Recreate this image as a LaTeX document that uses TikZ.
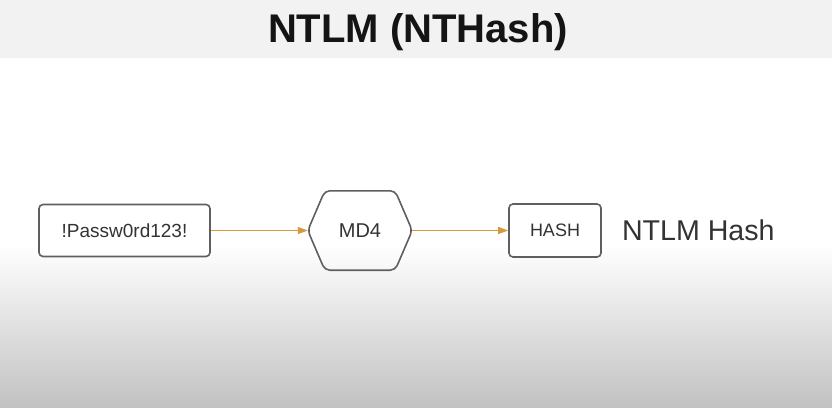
\documentclass[tikz,border=0pt]{standalone}
\usepackage{fontspec}
\setmainfont{Liberation Sans}
\usetikzlibrary{graphs,positioning,arrows.meta}
\definecolor{bandgray}{HTML}{F2F2F2}
\definecolor{bottomgray}{HTML}{C2C2C2}
\definecolor{linegray}{HTML}{5F5F5F}
\definecolor{textgray}{HTML}{333333}
\definecolor{flowc}{HTML}{D8993C}
\tikzset{
    plainbox/.style ={
        shape=rectangle,
        rounded corners=4pt,
        draw=linegray,
        line width=1.6pt,
        fill=white,
        text=textgray,
        inner sep=0pt
    },
    hexa/.style ={
        shape=rectangle,
        minimum width=104pt,
        minimum height=79pt,
        text=textgray,
        inner sep=0pt
    },
    flow/.style ={
        draw=flowc,
        line width=1.2pt,
        >={Triangle[length=10pt,width=7pt]}
    }
}

\begin{document}
\begin{tikzpicture}[x=1pt,y=-1pt]
    \useasboundingbox (0,0) rectangle (832,407);
    \fill[white] (0,0) rectangle (832,407);
    \fill[bandgray] (0,0) rectangle (832,57.5);
    \shade[top color=white,bottom color=bottomgray] (0,245) rectangle (832,407);
    \node[font=\fontsize{40}{44}\selectfont\bfseries,text=black!92] (title) at (418,32.5) {NTLM (NTHash)};
    \node[plainbox,minimum width=171pt,minimum height=52pt,font=\fontsize{19}{22}\selectfont] (pass) at (124.5,230.5) {!Passw0rd123!};
    \node[hexa,right=97pt of pass,font=\fontsize{20}{24}\selectfont] (md4) {MD4};
    \node[plainbox,right=96pt of md4,minimum width=92pt,minimum height=53pt,font=\fontsize{18}{21}\selectfont] (hash) {HASH};
    \node[right=20pt of hash,inner sep=0pt,text=textgray,font=\fontsize{28.6}{32}\selectfont] (ntlm) {NTLM Hash};
    \draw[draw=linegray,line width=1.6pt,rounded corners=5pt]
        (md4.west) -- ([xshift=17pt]md4.north west) -- ([xshift=-17pt]md4.north east)
        -- (md4.east) -- ([xshift=-17pt]md4.south east) -- ([xshift=17pt]md4.south west) -- cycle;
    \graph[edges={flow}]{
        (pass)->(md4)->(hash);
    };
\end{tikzpicture}
\end{document}
